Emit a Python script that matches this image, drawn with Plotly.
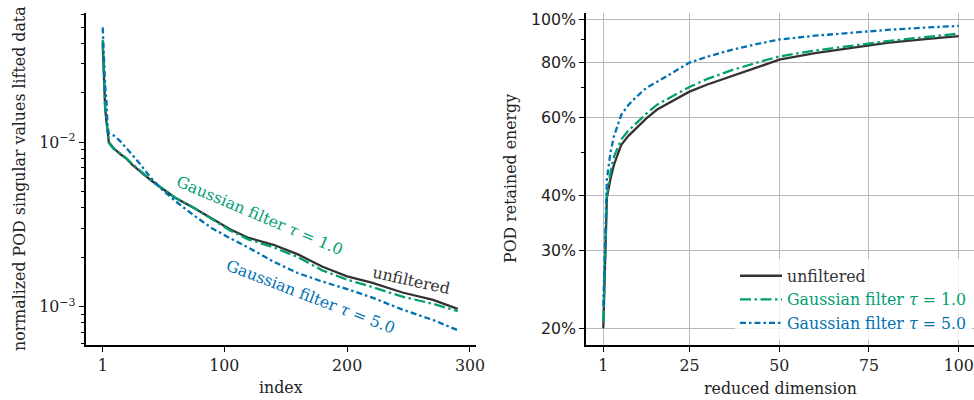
import plotly.graph_objects as go

# ---------------- data ----------------
# left panel: normalized POD singular values
idx = [1, 2, 3, 4, 5, 6, 10, 15, 20, 25, 30, 40, 50, 60, 75, 90, 105, 120, 140,
       160, 180, 200, 220, 245, 270, 290]
sv_unfiltered = [0.040, 0.022, 0.016, 0.0135, 0.0115, 0.0100, 0.0092, 0.0085, 0.0080,
                 0.0073, 0.0068, 0.0059, 0.0052, 0.0046, 0.0040, 0.00345, 0.00295,
                 0.00262, 0.00238, 0.00208, 0.00175, 0.00153, 0.00140, 0.00122,
                 0.00110, 0.00097]
sv_tau1 = [0.042, 0.023, 0.0165, 0.0138, 0.0117, 0.0099, 0.0091, 0.0086, 0.0080,
           0.0074, 0.0068, 0.0059, 0.0052, 0.0046, 0.0040, 0.00340, 0.00290,
           0.00256, 0.00230, 0.00200, 0.00166, 0.00146, 0.00132, 0.00115,
           0.00104, 0.00094]
sv_tau5 = [0.050, 0.030, 0.022, 0.018, 0.0125, 0.0113, 0.0110, 0.0102, 0.0093,
           0.0084, 0.0076, 0.0061, 0.0051, 0.0044, 0.0036, 0.0030, 0.00260,
           0.00228, 0.00188, 0.00160, 0.00142, 0.00128, 0.00114, 0.00096,
           0.00083, 0.00072]

# right panel: retained energy
dims = [1, 2, 3, 4, 6, 8, 10, 13, 16, 20, 25, 30, 37, 44, 50, 60, 70, 80, 90, 100]
en_unfiltered = [0.200, 0.395, 0.435, 0.470, 0.520, 0.545, 0.565, 0.597, 0.625, 0.652,
                 0.686, 0.712, 0.745, 0.779, 0.810, 0.838, 0.862, 0.884, 0.901, 0.916]
en_tau1 = [0.207, 0.400, 0.450, 0.490, 0.535, 0.560, 0.580, 0.612, 0.641, 0.669,
           0.703, 0.733, 0.768, 0.799, 0.824, 0.850, 0.872, 0.892, 0.910, 0.928]
en_tau5 = [0.225, 0.435, 0.500, 0.545, 0.608, 0.640, 0.665, 0.700, 0.722, 0.755,
           0.798, 0.823, 0.854, 0.880, 0.900, 0.918, 0.933, 0.946, 0.957, 0.966]

x_ticks_left = [1, 100, 200, 300]
x_ticks_right = [1, 25, 50, 75, 100]
y_ticks_left = [0.001, 0.01]
y_ticktext_left = ["10<sup>\u22123</sup>", "10<sup>\u22122</sup>"]
y_minor_left = [0.0006, 0.0007, 0.0008, 0.0009, 0.002, 0.003, 0.004, 0.005, 0.006,
                0.007, 0.008, 0.009, 0.02, 0.03, 0.04, 0.05, 0.06]
y_ticks_right = [0.2, 0.3, 0.4, 0.6, 0.8, 1.0]
y_ticktext_right = ["20%", "30%", "40%", "60%", "80%", "100%"]
y_minor_right = [0.5, 0.7, 0.9]

names = ["unfiltered", "Gaussian filter <i>\u03c4</i> = 1.0", "Gaussian filter <i>\u03c4</i> = 5.0"]
colors = ["#333333", "#009E73", "#0072B2"]
dashes = ["solid", "11px,3.5px,2.5px,3.5px", "6px,3px,2.5px,3px"]

SERIF = "DejaVu Serif"
SANS = "DejaVu Sans"
FS = 15.8
LW = 2.3

fig = go.Figure()

for ys, c, d in zip([sv_unfiltered, sv_tau1, sv_tau5], colors, dashes):
    fig.add_trace(go.Scatter(x=idx, y=ys, mode="lines", xaxis="x", yaxis="y",
                             line=dict(color=c, width=LW, dash=d), showlegend=False))

for i, (ys, c, d) in enumerate(zip([en_unfiltered, en_tau1, en_tau5], colors, dashes)):
    nm = names[i] if i == 0 else f"<span style='color:{c}'>{names[i]}</span>"
    fig.add_trace(go.Scatter(x=dims, y=ys, mode="lines", xaxis="x2", yaxis="y2",
                             name=nm, legendgroup=f"g{i}",
                             line=dict(color=c, width=LW, dash=d)))

axis_common = dict(showline=True, linecolor="black", linewidth=1.5, ticks="outside",
                   ticklen=5, tickwidth=1.2, tickcolor="black", mirror=False,
                   zeroline=False, automargin=False,
                   tickfont=dict(family=SERIF, size=FS, color="#222"))

fig.update_layout(
    width=974, height=400,
    margin=dict(l=0, r=0, t=0, b=0),
    paper_bgcolor="white", plot_bgcolor="white",
    font=dict(family=SERIF, size=FS, color="#222"),
    xaxis=dict(domain=[85.5 / 974, 476 / 974], range=[-13.0, 304.9],
               tickmode="array", tickvals=x_ticks_left, showgrid=False, anchor="y",
               **axis_common),
    yaxis=dict(domain=[1 - 345 / 400, 1 - 12.7 / 400], type="log",
               range=[-3.233, -1.2117], tickmode="array", tickvals=y_ticks_left,
               ticktext=y_ticktext_left, showgrid=False, anchor="x",
               minor=dict(tickmode="array", tickvals=y_minor_left, ticks="outside",
                          ticklen=3, tickwidth=1, tickcolor="black", showgrid=False),
               **axis_common),
    xaxis2=dict(domain=[586 / 974, 1.0], range=[-3.82, 104.26],
                tickmode="array", tickvals=x_ticks_right, showgrid=True,
                gridcolor="#b8b8b8", gridwidth=1.2, anchor="y2", **axis_common),
    yaxis2=dict(domain=[1 - 345 / 400, 1 - 12.7 / 400], type="log",
                range=[-0.7368, 0.0149], tickmode="array", tickvals=y_ticks_right,
                ticktext=y_ticktext_right, showgrid=True, gridcolor="#b8b8b8",
                gridwidth=1.2, anchor="x2",
                minor=dict(tickmode="array", tickvals=y_minor_right, ticks="outside",
                           ticklen=3, tickwidth=1, tickcolor="black", showgrid=False),
                **{**axis_common, "tickfont": dict(family=SANS, size=FS, color="#222")}),
    legend=dict(x=735 / 974, y=1 - 259 / 400, xanchor="left", yanchor="top",
                bgcolor="rgba(255,255,255,0.8)", borderwidth=0,
                font=dict(family=SERIF, size=FS, color="#333"),
                itemwidth=42, tracegroupgap=0),
)

annotations = [
    # axis titles
    dict(text="index", x=281 / 974, y=1 - 387 / 400, xref="paper", yref="paper",
         xanchor="center", yanchor="middle",
         showarrow=False, font=dict(family=SERIF, size=FS, color="#222")),
    dict(text="reduced dimension", x=780 / 974, y=1 - 388 / 400, xref="paper", yref="paper",
         xanchor="center", yanchor="middle",
         showarrow=False, font=dict(family=SERIF, size=FS, color="#222")),
    dict(text="normalized POD singular values lifted data", x=19 / 974, y=1 - 179 / 400,
         xref="paper", yref="paper", textangle=-90, showarrow=False,
         xanchor="center", yanchor="middle",
         font=dict(family=SERIF, size=FS, color="#222")),
    dict(text="POD retained energy", x=510 / 974, y=1 - 179 / 400,
         xref="paper", yref="paper", textangle=-90, showarrow=False,
         xanchor="center", yanchor="middle",
         font=dict(family=SERIF, size=FS, color="#222")),
    # in-plot labels (data coordinates; log axis uses log10 values)
    dict(text=names[1], x=128.8, y=-2.448, xref="x", yref="y", textangle=23,
         showarrow=False, font=dict(family=SERIF, size=FS, color=colors[1])),
    dict(text=names[2], x=170.0, y=-2.94, xref="x", yref="y", textangle=21,
         showarrow=False, font=dict(family=SERIF, size=FS, color=colors[2])),
    dict(text="unfiltered", x=252.6, y=-2.84, xref="x", yref="y", textangle=12.5,
         showarrow=False, font=dict(family=SERIF, size=FS, color=colors[0])),
]
fig.update_layout(annotations=annotations)

fig.write_html("out.html", config={"displayModeBar": False},
               post_script="document.body.style.margin='0';document.body.style.overflow='hidden';")
